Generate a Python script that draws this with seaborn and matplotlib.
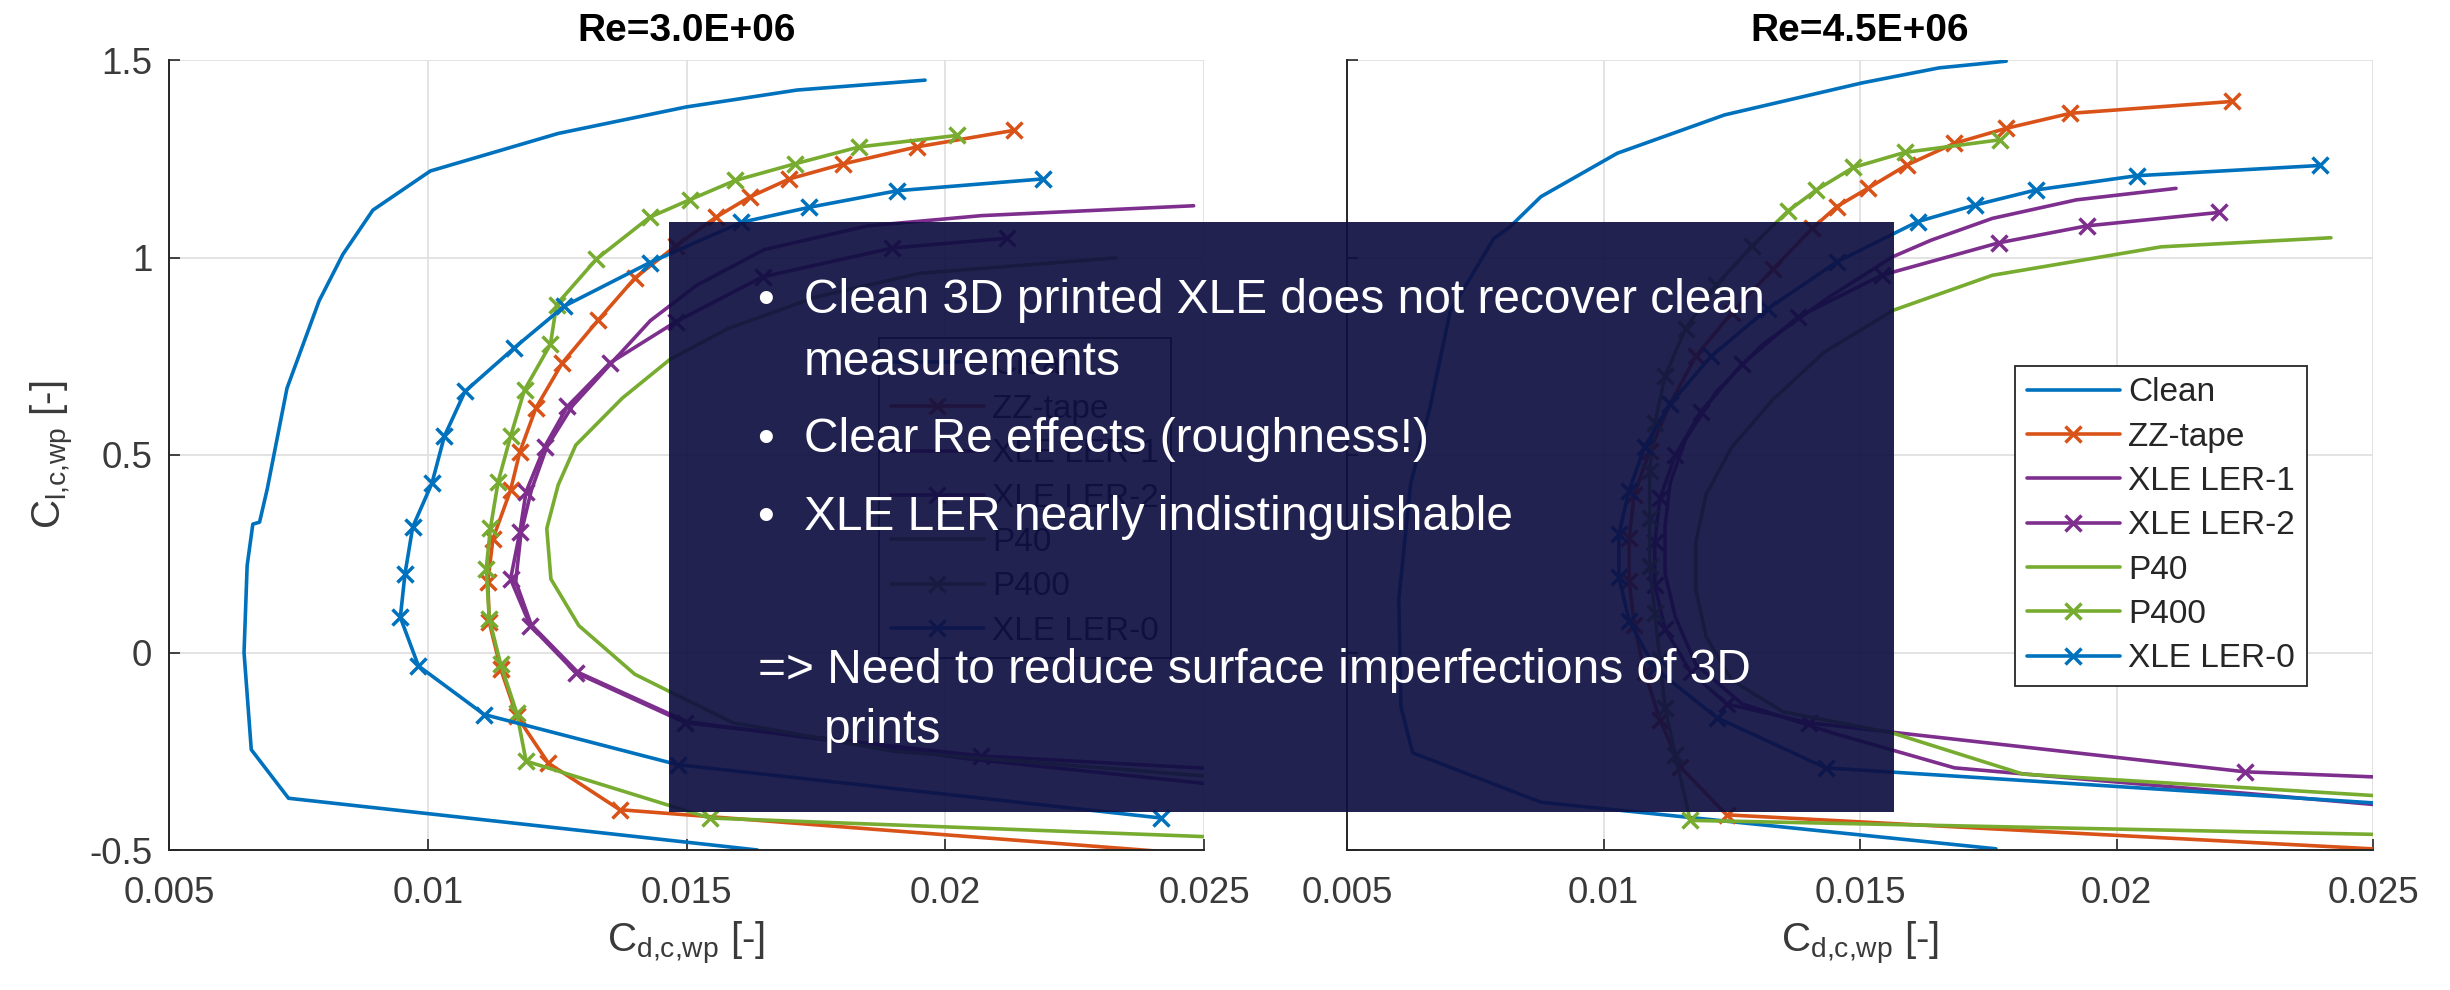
import numpy as np
import pandas as pd
import matplotlib
matplotlib.use('Agg')
import matplotlib.pyplot as plt
import seaborn as sns
from matplotlib.patches import Rectangle

# ---- data: drag (cd) / lift (cl) polars ----
# Re = 3.0E+06
re3_clean_cd = [0.01961, 0.01714, 0.01499, 0.01252, 0.01005, 0.00894, 0.00836, 0.0079, 0.00728, 0.0069, 0.00675, 0.00662, 0.00651, 0.00645, 0.00659, 0.00731, 0.01637]
re3_clean_cl = [1.449, 1.424, 1.381, 1.314, 1.219, 1.120, 1.008, 0.890, 0.669, 0.415, 0.33, 0.325, 0.22, 0.0, -0.246, -0.369, -0.5]
re3_zz_cd = [0.02133, 0.01945, 0.01803, 0.01699, 0.01622, 0.01557, 0.0148, 0.01401, 0.01329, 0.0126, 0.01209, 0.01178, 0.0116, 0.01126, 0.01116, 0.01119, 0.01141, 0.01172, 0.01233, 0.01371, 0.0258]
re3_zz_cl = [1.322, 1.280, 1.237, 1.199, 1.153, 1.102, 1.03, 0.949, 0.841, 0.733, 0.619, 0.508, 0.411, 0.288, 0.178, 0.076, -0.042, -0.161, -0.28, -0.398, -0.52]
re3_ler1_cd = [0.0248, 0.0207, 0.0185, 0.0165, 0.0152, 0.0143, 0.0136, 0.0128, 0.0123, 0.0120, 0.0118, 0.0117, 0.0120, 0.0129, 0.0150, 0.0205, 0.026]
re3_ler1_cl = [1.131, 1.106, 1.08, 1.02, 0.93, 0.84, 0.74, 0.625, 0.52, 0.41, 0.30, 0.18, 0.07, -0.05, -0.175, -0.27, -0.345]
re3_ler2_cd = [0.0212, 0.01898, 0.01647, 0.01479, 0.01352, 0.0127, 0.01226, 0.0119, 0.01178, 0.0116, 0.01198, 0.01286, 0.01498, 0.0207, 0.026]
re3_ler2_cl = [1.049, 1.024, 0.951, 0.837, 0.733, 0.623, 0.521, 0.407, 0.305, 0.186, 0.068, -0.051, -0.178, -0.262, -0.30]
re3_p40_cd = [0.0233, 0.0195, 0.0175, 0.0158, 0.01468, 0.01376, 0.01286, 0.01252, 0.0123, 0.01238, 0.01292, 0.014, 0.01469, 0.0159, 0.019, 0.026]
re3_p40_cl = [0.999, 0.96, 0.90, 0.82, 0.742, 0.644, 0.525, 0.424, 0.314, 0.186, 0.068, -0.055, -0.1, -0.178, -0.25, -0.323]
re3_p400_cd = [0.02022, 0.01834, 0.01709, 0.01594, 0.01506, 0.01429, 0.01326, 0.01249, 0.01237, 0.01187, 0.0116, 0.01136, 0.01121, 0.01113, 0.01119, 0.01141, 0.01172, 0.0119, 0.01545, 0.026]
re3_p400_cl = [1.309, 1.28, 1.237, 1.195, 1.146, 1.102, 0.996, 0.881, 0.780, 0.665, 0.547, 0.432, 0.314, 0.212, 0.085, -0.03, -0.153, -0.275, -0.419, -0.471]
re3_ler0_cd = [0.02189, 0.01907, 0.01737, 0.01606, 0.01429, 0.01264, 0.01167, 0.01072, 0.01032, 0.01008, 0.00971, 0.00956, 0.00947, 0.00982, 0.01109, 0.01483, 0.02417]
re3_ler0_cl = [1.199, 1.169, 1.127, 1.089, 0.987, 0.877, 0.771, 0.661, 0.547, 0.428, 0.318, 0.199, 0.089, -0.034, -0.157, -0.284, -0.419]

# Re = 4.5E+06
re45_clean_cd = [0.01785, 0.01654, 0.01504, 0.01236, 0.01027, 0.00878, 0.00818, 0.00786, 0.00701, 0.00662, 0.00624, 0.00601, 0.00605, 0.00628, 0.00878, 0.01765]
re45_clean_cl = [1.497, 1.48, 1.442, 1.361, 1.264, 1.154, 1.078, 1.048, 0.863, 0.622, 0.426, 0.135, -0.137, -0.254, -0.379, -0.497]
re45_zz_cd = [0.02225, 0.0191, 0.01785, 0.01684, 0.01591, 0.01515, 0.01455, 0.01407, 0.0133, 0.0125, 0.0118, 0.0113, 0.0109, 0.0106, 0.0105, 0.0105, 0.0106, 0.0108, 0.0111, 0.0115, 0.0124, 0.026]
re45_zz_cl = [1.395, 1.365, 1.327, 1.289, 1.234, 1.175, 1.129, 1.074, 0.97, 0.86, 0.75, 0.63, 0.51, 0.40, 0.29, 0.18, 0.07, -0.05, -0.17, -0.29, -0.411, -0.504]
re45_ler1_cd = [0.02116, 0.01922, 0.01758, 0.01639, 0.01564, 0.0144, 0.0131, 0.0122, 0.0116, 0.0113, 0.0112, 0.0112, 0.0114, 0.0118, 0.0127, 0.0145, 0.01684, 0.026]
re45_ler1_cl = [1.175, 1.146, 1.099, 1.044, 1.002, 0.9, 0.78, 0.66, 0.54, 0.43, 0.32, 0.2, 0.09, -0.03, -0.13, -0.205, -0.292, -0.396]
re45_ler2_cd = [0.02199, 0.01942, 0.0177, 0.01542, 0.0138, 0.0127, 0.0119, 0.0114, 0.0111, 0.011, 0.011, 0.0112, 0.0117, 0.0124, 0.0140, 0.0225, 0.026]
re45_ler2_cl = [1.114, 1.08, 1.037, 0.955, 0.85, 0.73, 0.61, 0.50, 0.39, 0.28, 0.17, 0.06, -0.05, -0.13, -0.178, -0.302, -0.320]
re45_p40_cd = [0.02418, 0.02087, 0.01758, 0.01564, 0.0143, 0.0133, 0.0125, 0.012, 0.0118, 0.0118, 0.012, 0.0125, 0.0135, 0.01564, 0.01818, 0.026]
re45_p40_cl = [1.05, 1.027, 0.955, 0.866, 0.76, 0.64, 0.52, 0.40, 0.28, 0.16, 0.04, -0.07, -0.15, -0.204, -0.308, -0.370]
re45_p400_cd = [0.01773, 0.01587, 0.01487, 0.01415, 0.0136, 0.0129, 0.0122, 0.0116, 0.0112, 0.0110, 0.0109, 0.0109, 0.0109, 0.011, 0.0111, 0.0112, 0.0114, 0.01169, 0.026]
re45_p400_cl = [1.298, 1.266, 1.228, 1.171, 1.118, 1.03, 0.93, 0.82, 0.70, 0.58, 0.46, 0.34, 0.22, 0.10, -0.02, -0.14, -0.26, -0.425, -0.463]
re45_ler0_cd = [0.02397, 0.02039, 0.01843, 0.01725, 0.01613, 0.01455, 0.0132, 0.0121, 0.0113, 0.0108, 0.0105, 0.0103, 0.0103, 0.0105, 0.0110, 0.01221, 0.01433, 0.026]
re45_ler0_cl = [1.233, 1.207, 1.171, 1.133, 1.091, 0.989, 0.87, 0.75, 0.63, 0.52, 0.41, 0.30, 0.19, 0.08, -0.04, -0.165, -0.292, -0.389]

series_names = ['Clean', 'ZZ-tape', 'XLE LER-1', 'XLE LER-2', 'P40', 'P400', 'XLE LER-0']
panel_titles = ['Re=3.0E+06', 'Re=4.5E+06']
x_ticks = [0.005, 0.01, 0.015, 0.02, 0.025]
x_ticklabels = ['0.005', '0.01', '0.015', '0.02', '0.025']
y_ticks = [-0.5, 0, 0.5, 1, 1.5]
y_ticklabels = ['-0.5', '0', '0.5', '1', '1.5']

bullets = ['Clean 3D printed XLE does not recover clean', 'Clear Re effects (roughness!)',
           'XLE LER nearly indistinguishable']

panels = [
    [(re3_clean_cd, re3_clean_cl), (re3_zz_cd, re3_zz_cl), (re3_ler1_cd, re3_ler1_cl), (re3_ler2_cd, re3_ler2_cl),
     (re3_p40_cd, re3_p40_cl), (re3_p400_cd, re3_p400_cl), (re3_ler0_cd, re3_ler0_cl)],
    [(re45_clean_cd, re45_clean_cl), (re45_zz_cd, re45_zz_cl), (re45_ler1_cd, re45_ler1_cl), (re45_ler2_cd, re45_ler2_cl),
     (re45_p40_cd, re45_p40_cl), (re45_p400_cd, re45_p400_cl), (re45_ler0_cd, re45_ler0_cl)],
]

# MATLAB-like styles
styles = {
    'Clean': ('#0072BD', None),
    'ZZ-tape': ('#D95319', 'x'),
    'XLE LER-1': ('#7E2F8E', None),
    'XLE LER-2': ('#7E2F8E', 'x'),
    'P40': ('#77AC30', None),
    'P400': ('#77AC30', 'x'),
    'XLE LER-0': ('#0072BD', 'x'),
}

sns.set_style('ticks')
plt.rcParams['font.family'] = ['Liberation Sans', 'DejaVu Sans']
plt.rcParams['mathtext.fontset'] = 'custom'
plt.rcParams['mathtext.rm'] = 'Liberation Sans'
plt.rcParams['mathtext.it'] = 'Liberation Sans:italic'

W, H = 2450, 990
fig = plt.figure(figsize=(24.5, 9.9), dpi=100)
ax1 = fig.add_axes([169 / W, 1 - 850 / H, 1035 / W, 790 / H])
ax2 = fig.add_axes([1347 / W, 1 - 850 / H, 1026 / W, 790 / H])

legend_anchor = [(0.686, 0.648), (0.651, 0.613)]

for i, ax in enumerate([ax1, ax2]):
    for name, (cd, cl) in zip(series_names, panels[i]):
        df = pd.DataFrame({'cd': cd, 'cl': cl})
        color, marker = styles[name]
        sns.lineplot(data=df, x='cd', y='cl', ax=ax, sort=False, estimator=None,
                     color=color, linewidth=2.6, marker=marker, markersize=12,
                     markeredgewidth=2.5, markeredgecolor=color, label=name)

    ax.set_xlim(0.005, 0.025)
    ax.set_ylim(-0.5, 1.5)
    ax.set_xticks(x_ticks)
    ax.set_xticklabels(x_ticklabels)
    ax.set_yticks(y_ticks)
    ax.set_yticklabels(y_ticklabels)
    ax.grid(True, color='#e0e0e0', linewidth=1.3)
    ax.set_axisbelow(True)
    for s in ['top', 'right']:
        ax.spines[s].set_visible(False)
    for s in ['left', 'bottom']:
        ax.spines[s].set_color('#262626')
        ax.spines[s].set_linewidth(1.4)
    ax.tick_params(axis='x', direction='in', length=8, width=1.2, colors='#262626',
                   labelsize=26.5, pad=19, labelcolor='#3a3a3a')
    ax.tick_params(axis='y', direction='in', length=8, width=1.2, colors='#262626',
                   labelsize=26.5, pad=12, labelcolor='#3a3a3a')
    ax.set_title(panel_titles[i], fontsize=28, fontweight='bold', pad=14, color='black')
    ax.set_xlabel(r'$\mathrm{C_{d{,}c{,}wp}}$ [-]', fontsize=29, color='#3a3a3a')
    ax.xaxis.set_label_coords(0.5, -0.088)

    leg = ax.legend(loc='upper left', bbox_to_anchor=legend_anchor[i], borderaxespad=0,
                    fontsize=24, frameon=True, fancybox=False, framealpha=1,
                    edgecolor='#262626', handlelength=2.8, handletextpad=0.25,
                    labelspacing=0.4, borderpad=0.35)
    leg.get_frame().set_linewidth(1.3)

ax1.set_ylabel(r'$\mathrm{C_{l{,}c{,}wp}}$ [-]', fontsize=29, color='#3a3a3a')
ax1.yaxis.set_label_coords(-0.09, 0.5)
ax2.set_ylabel('')
ax2.tick_params(axis='y', labelleft=False)

# semi-transparent text panel on top of both charts
box = Rectangle((669 / W, 1 - 812 / H), (1894 - 669) / W, (812 - 222) / H,
                transform=fig.transFigure, facecolor='#0f0f41', alpha=0.92,
                edgecolor='none', zorder=5)
fig.add_artist(box)

txt = dict(color='white', fontsize=34.5, va='baseline', zorder=6)
for text, base in zip(bullets, [313, 452, 530]):
    fig.text(766 / W, 1 - base / H, '\u2022', ha='center', **txt)
    fig.text(804 / W, 1 - base / H, text, ha='left', **txt)
fig.text(804 / W, 1 - 375 / H, 'measurements', ha='left', **txt)
fig.text(758 / W, 1 - 683 / H, '=> Need to reduce surface imperfections of 3D', ha='left', **txt)
fig.text(824 / W, 1 - 743 / H, 'prints', ha='left', **txt)

fig.savefig('out.png', dpi=100, facecolor='white')
